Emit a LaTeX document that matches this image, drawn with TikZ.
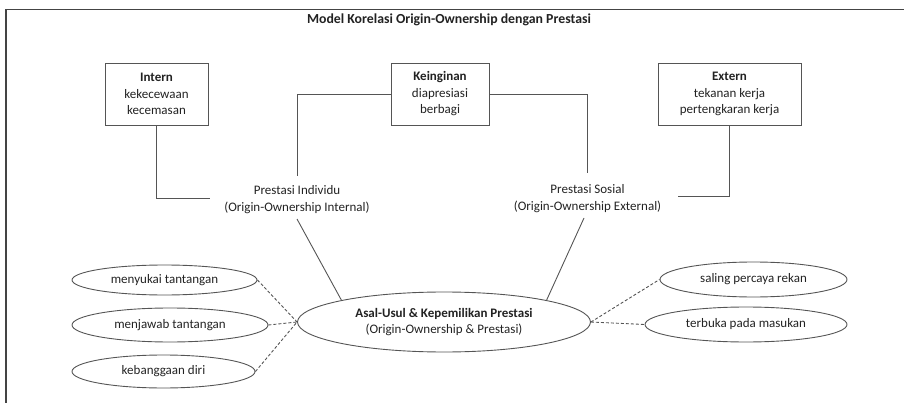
\documentclass[tikz,border=0pt]{standalone}
\usepackage{fontspec}
\setmainfont{Carlito}
\usetikzlibrary{shapes.geometric}
\definecolor{ink}{HTML}{222222}
\definecolor{edge}{HTML}{555555}
\begin{document}
\begin{tikzpicture}[x=1pt,y=-1pt,
  every node/.style={text=ink,font=\fontsize{13}{16.5}\selectfont},
  conn/.style={draw=edge,line width=0.9pt},
  dotconn/.style={draw=edge,line width=0.9pt,dash pattern=on 3pt off 2pt},
  factor/.style={draw=edge,line width=0.9pt,align=center,inner sep=0pt,minimum height=62pt},
  caption/.style={align=center,inner sep=0pt},
  trait/.style={ellipse,draw=edge,line width=0.9pt,inner sep=0pt,minimum height=33pt}]
\useasboundingbox (0,0) rectangle (904,403);
% outer frame
\draw[draw=edge!80!black,line width=1.2pt] (6,403) -- (6,9.5) -- (904,9.5);
\node[font=\fontsize{13.8}{16}\selectfont\bfseries] (title) at (449,20) {Model Korelasi Origin-Ownership dengan Prestasi};
% factor boxes
\node[factor,minimum width=103pt] (intern) at (156.5,94) {\textbf{Intern}\\kekecewaan\\kecemasan};
\node[factor,minimum width=98pt] (kein) at (440,94) {\textbf{Keinginan}\\diapresiasi\\berbagi};
\node[factor,minimum width=143pt] (ext) at (729.5,94) {\textbf{Extern}\\tekanan kerja\\pertengkaran kerja};
% achievement captions
\node[caption] (indiv) at (297,199.5) {Prestasi Individu\\(Origin-Ownership Internal)};
\node[caption] (sos) at (587.5,198.5) {Prestasi Sosial\\(Origin-Ownership External)};
\coordinate (indivL) at (210,198);
\coordinate (indivT) at (297,176);
\coordinate (indivB) at (297,219);
\coordinate (sosT) at (587,173);
\coordinate (sosR) at (678,196);
\coordinate (sosB) at (584,218);
% central ellipse
\node[ellipse,draw=edge,line width=0.9pt,inner sep=0pt,minimum width=293pt,minimum height=60pt,align=center] (asal) at (444,322)
  {\textbf{Asal-Usul \& Kepemilikan Prestasi}\\(Origin-Ownership \& Prestasi)};
% trait ellipses
\node[trait,minimum width=185pt,minimum height=30pt] (l1) at (164.5,280) {menyukai tantangan};
\node[trait,minimum width=196pt,minimum height=34pt] (l2) at (170,325) {menjawab tantangan};
\node[trait,minimum width=183pt,minimum height=33pt] (l3) at (163.5,371.5) {kebanggaan diri};
\node[trait,minimum width=187pt,minimum height=35pt] (r1) at (753.5,279.5) {saling percaya rekan};
\node[trait,minimum width=202pt,minimum height=35pt] (r2) at (746,324.5) {terbuka pada masukan};
% connectors
\draw[conn] (intern.south) |- (indivL);
\draw[conn] (kein.west) -| (indivT);
\draw[conn] (kein.east) -| (sosT);
\draw[conn] (ext.south) |- (sosR);
\draw[conn] (indivB) -- (asal.168);
\draw[conn] (sosB) -- (asal.12);
\draw[dotconn] (l1.east) -- (asal.west);
\draw[dotconn] (l2.east) -- (asal.west);
\draw[dotconn] (l3.east) -- (asal.west);
\draw[dotconn] (asal.east) -- (r1.west);
\draw[dotconn] (asal.east) -- (r2.west);
\end{tikzpicture}
\end{document}
